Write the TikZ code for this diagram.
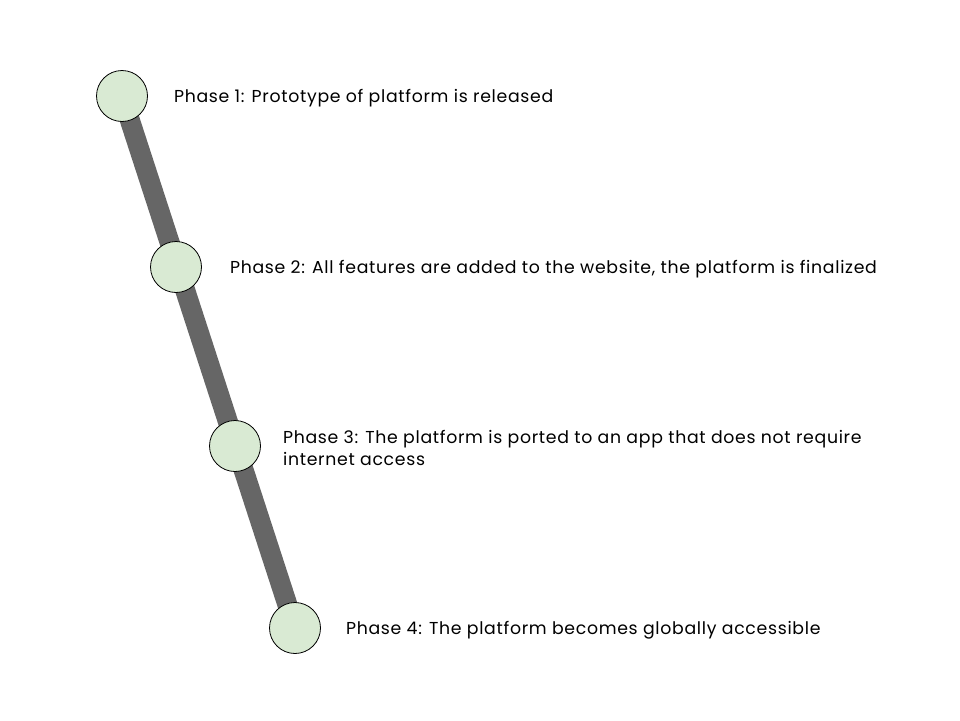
\documentclass[tikz,border=0pt]{standalone}
\usepackage{fontspec}
\setmainfont[LetterSpace=4]{Poppins}
\usetikzlibrary{positioning,backgrounds}
\definecolor{fasefill}{HTML}{D9EAD3}
\definecolor{barra}{HTML}{666666}
\tikzset{
  fase/.style={circle, draw=black, fill=fasefill, minimum size=51pt, inner sep=0pt, line width=0.8pt},
  rotulo/.style={anchor=west, inner sep=0pt, yshift=-2pt, font=\fontsize{17.3}{22.5}\selectfont, align=left},
}
\begin{document}
\begin{tikzpicture}[x=1pt,y=-1pt] %Início do desenho
  \useasboundingbox (0,0) rectangle (960,720);
	%Fases
  \node[fase] (f1) at (122,96) {};
  \node[fase] (f2) at (176,267) {};
  \node[fase] (f3) at (235,446) {};
  \node[fase] (f4) at (295,628) {};
	%Barra
  \begin{pgfonlayer}{background}
    \draw[barra, line width=20pt] (f1.center) -- (f4.center);
  \end{pgfonlayer}
	%Textos
  \node[rotulo, right=26pt of f1] (t1) {Phase 1: Prototype of platform is released};
  \node[rotulo, right=28pt of f2] (t2) {Phase 2: All features are added to the website, the platform is finalized};
  \node[rotulo, right=22pt of f3] (t3) {Phase 3: The platform is ported to an app that does not require\\internet access};
  \node[rotulo, right=25pt of f4] (t4) {Phase 4: The platform becomes globally accessible};
\end{tikzpicture}
\end{document}
